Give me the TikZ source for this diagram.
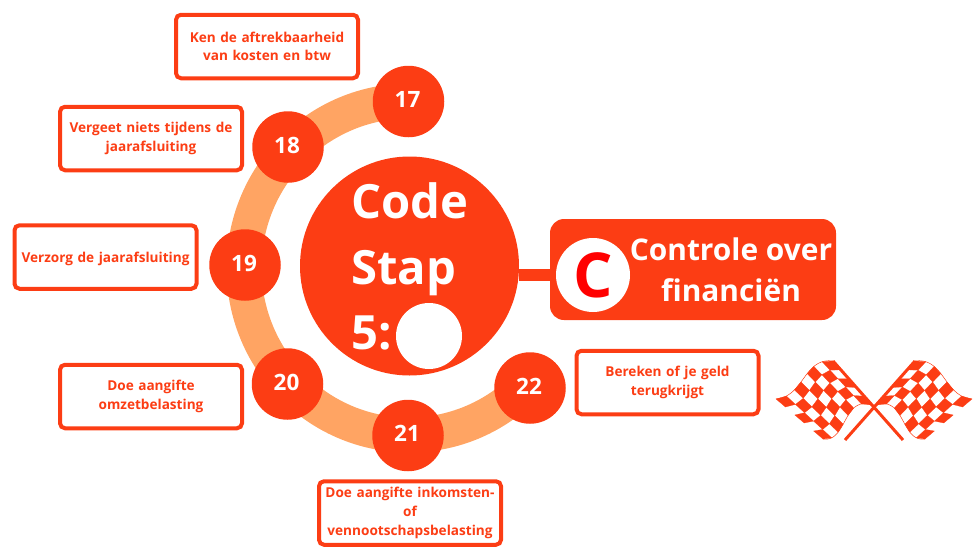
\documentclass[tikz,border=0pt]{standalone}
\usepackage{fontspec}
\setmainfont{Open Sans}
\definecolor{oran}{HTML}{FC3D14}
\definecolor{ringc}{HTML}{FFA463}
\tikzset{
  lab/.style={draw=oran,line width=4pt,rounded corners=5pt,fill=white,text=oran,font=\bfseries\fontsize{13.6}{18.6}\selectfont,align=center,minimum width=182pt,minimum height=63.5pt,inner sep=0pt,text width=178pt},
  num/.style={circle,fill=oran,text=white,font=\bfseries\fontsize{22.5}{24}\selectfont,minimum size=71.5pt,inner sep=0pt,text depth=3.5pt,execute at end node=\kern2pt},
  big/.style={text=white,font=\bfseries\fontsize{47.2}{50}\selectfont,anchor=base west,inner sep=0pt},
  flagcell/.style={fill=oran,draw=oran,line width=.2pt},
  declare function={bez(\t,\a,\b,\c,\d)=(1-\t)^3*\a+3*(1-\t)^2*\t*\b+3*(1-\t)*\t^2*\c+\t^3*\d;
    fx(\u,\v)=(1-\v)*bez(\u,833,804,804,776)+\v*bez(\u,872,843,847,823);
    fy(\u,\v)=(1-\v)*bez(\u,361,357,397,399)+\v*bez(\u,405,395,443,439);}
}
\newcommand{\flagdraw}{%
  \foreach \i in {0,...,6}{\foreach \j in {0,...,4}{%
    \pgfmathtruncatemacro{\cellpar}{mod(\i+\j,2)}%
    \ifnum\cellpar=0
      \pgfmathsetmacro{\ua}{\i/7}\pgfmathsetmacro{\ub}{(\i+1)/7}%
      \pgfmathsetmacro{\va}{\j/5}\pgfmathsetmacro{\vb}{(\j+1)/5}%
      \fill[flagcell] ({fx(\ua,\va)},{fy(\ua,\va)}) -- ({fx(\ub,\va)},{fy(\ub,\va)}) -- ({fx(\ub,\vb)},{fy(\ub,\vb)}) -- ({fx(\ua,\vb)},{fy(\ua,\vb)}) -- cycle;
    \fi}}%
  \draw[oran,line width=.5pt] plot[domain=0:1,samples=20] ({fx(\x,0)},{fy(\x,0)});
  \draw[oran,line width=.5pt] plot[domain=0:1,samples=20] ({fx(\x,1)},{fy(\x,1)});
  \coordinate (poletop) at (833,361);
  \coordinate (polebot) at (903,440);
  \draw[oran,line width=3pt] (poletop) -- (polebot);
}
\begin{document}
\begin{tikzpicture}[x=1pt,y=-1pt]
\useasboundingbox (0,0) rectangle (980,552);
% ring
\coordinate (rc) at (409,268);
\draw[ringc,line width=35pt] ([shift={(-45:165pt and 167pt)}]rc) arc[start angle=-45,end angle=-270,x radius=165pt,y radius=167pt];
% connector and title box
\node[circle,fill=oran,minimum size=219pt,inner sep=0pt] (hub) at (409.5,266) {};
\node[fill=oran,rounded corners=14pt,minimum width=286pt,minimum height=101pt,inner sep=0pt] (cbox) at (693,269.5) {};
\draw[oran,line width=12pt] (hub.east |- 0,275) -- (cbox.west |- 0,275);
\node[circle,fill=white,minimum size=74pt,inner sep=0pt,text=red,font=\bfseries\fontsize{62}{62}\selectfont] (cc) at (593,275) {C};
\node[text=white,font=\bfseries\fontsize{29.9}{41}\selectfont,align=center,inner sep=0pt] (ctitle) at (731,270) {Controle over\\financiën};
% hub text
\node[big] (t1) at (351,218) {Code};
\node[big] (t2) at (351,284) {Stap};
\node[big] (t3) at (351,349) {5:};
\node[circle,fill=white,minimum size=66pt,inner sep=0pt] (dot) at (429,336) {};
% numbers
\node[num] (n17) at (408.5,101.5) {17};
\node[num] (n18) at (288,147) {18};
\node[num] (n19) at (245,265) {19};
\node[num] (n20) at (287.5,384) {20};
\node[num] (n21) at (408,435.5) {21};
\node[num] (n22) at (530,388) {22};
% labels
\node[lab] (l17) at (267,46.5) {Ken de aftrekbaarheid\\van kosten en btw};
\node[lab] (l18) at (151,138.5) {Vergeet niets tijdens de\\jaarafsluiting};
\node[lab,text height=14pt,text depth=3.5pt] (l19) at (105.5,257) {Verzorg de jaarafsluiting};
\node[lab] (l20) at (151,396.5) {Doe aangifte\\omzetbelasting};
\node[lab] (l21) at (410,513) {Doe aangifte inkomsten-\\of\\vennootschapsbelasting};
\node[lab] (l22) at (667.5,382.5) {Bereken of je geld\\terugkrijgt};
% flags
\flagdraw
\begin{scope}[shift={(1748,0)},xscale=-1]
\flagdraw
\end{scope}
\end{tikzpicture}
\end{document}
